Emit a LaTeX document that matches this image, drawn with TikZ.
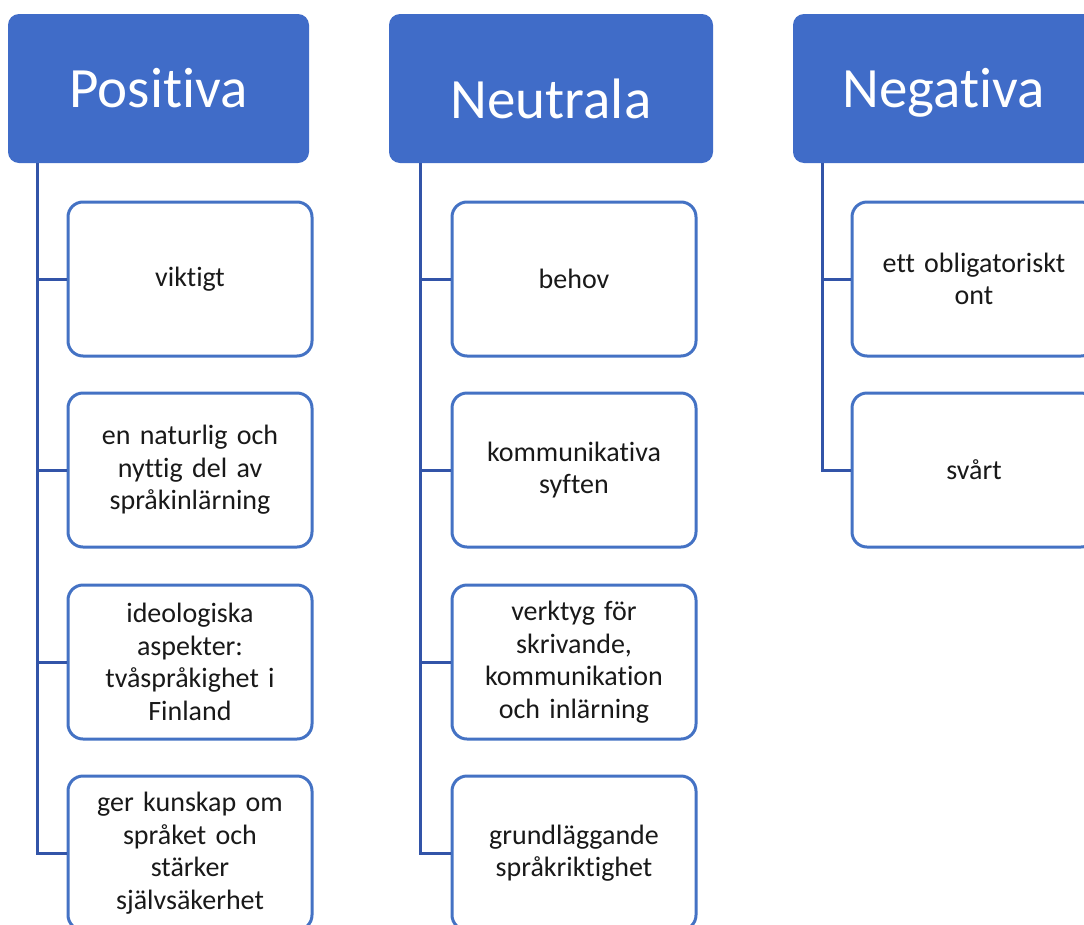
\documentclass[tikz,border=0pt]{standalone}
\usepackage{fontspec}
\setmainfont[Ligatures={NoCommon}]{Carlito}
\definecolor{hdrblue}{RGB}{64,108,200}
\definecolor{boxblue}{RGB}{68,114,196}
\definecolor{linkblue}{RGB}{50,84,168}
\definecolor{txt}{RGB}{25,25,25}
\begin{document}
\begin{tikzpicture}[x=1pt,y=-1pt,
  header/.style={fill=hdrblue, draw=none, rounded corners=11pt, text=white,
    font=\fontsize{57}{62}\selectfont, inner sep=0pt, minimum height=149pt,
    text depth=0pt},
  child/.style={draw=boxblue, line width=3pt, fill=white, rounded corners=15pt,
    minimum width=244pt, minimum height=154pt, inner sep=0pt, text width=225pt,
    align=center, text=txt, font=\fontsize{28}{32.5}\selectfont},
  link/.style={draw=linkblue, line width=3pt}]
\useasboundingbox (0,0) rectangle (1084,924);
\clip (0,0) rectangle (1084,924);
\fill[white] (0,0) rectangle (1084,924);

% headers
\node[header, minimum width=301pt, text height=37pt] (P) at (158.5,88.5) {Positiva};
\node[header, minimum width=324pt, text height=59pt] (U) at (551,88.5) {Neutrala};
\node[header, minimum width=301pt, text height=37pt] (N) at (943.5,88.5) {Negativa};

% trunk coordinates
\coordinate (Pt) at (37,163);
\coordinate (Ut) at (420,163);
\coordinate (Nt) at (822,163);

% Positiva children
\node[child] (P1) at (190,279) {viktigt};
\node[child] (P2) at (190,470) {en naturlig och\\nyttig del av\\språkinlärning};
\node[child] (P3) at (190,662) {ideologiska\\aspekter:\\tvåspråkighet i\\Finland};
\node[child] (P4) at (190,853) {ger kunskap om\\språket och\\stärker\\självsäkerhet};

% Neutrala children
\node[child] (U1) at (574,279) {behov};
\node[child] (U2) at (574,470) {kommunikativa\\syften};
\node[child] (U3) at (574,662) {verktyg för\\skrivande,\\kommunikation\\och inlärning};
\node[child] (U4) at (574,853) {grundläggande\\språkriktighet};

% Negativa children
\node[child] (N1) at (974,279) {ett obligatoriskt\\ont};
\node[child] (N2) at (974,470) {svårt};

% connectors
\draw[link] (Pt) |- (P4.west);
\draw[link] (Pt |- P1.west) -- (P1.west);
\draw[link] (Pt |- P2.west) -- (P2.west);
\draw[link] (Pt |- P3.west) -- (P3.west);

\draw[link] (Ut) |- (U4.west);
\draw[link] (Ut |- U1.west) -- (U1.west);
\draw[link] (Ut |- U2.west) -- (U2.west);
\draw[link] (Ut |- U3.west) -- (U3.west);

\draw[link] (Nt) |- (N2.west);
\draw[link] (Nt |- N1.west) -- (N1.west);
\end{tikzpicture}
\end{document}
